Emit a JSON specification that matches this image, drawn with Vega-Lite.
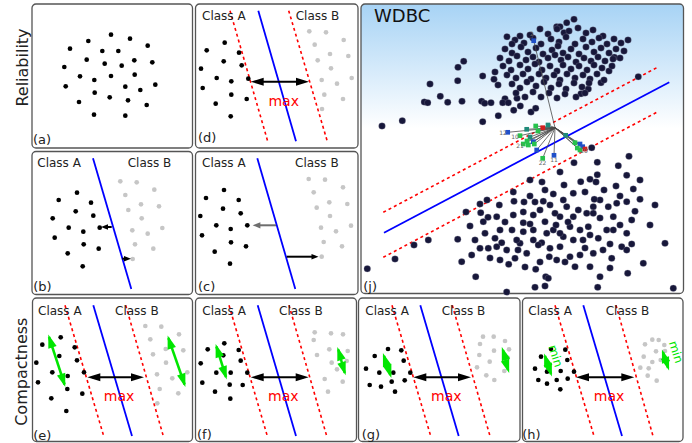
{
"$schema": "https://vega.github.io/schema/vega-lite/v6.json",
"width": 692, "height": 443,
"autosize": {"type": "fit", "contains": "padding"},
"padding": 0,
"background": "white",
"config": {"view": {"stroke": null}, "font": "DejaVu Sans"},
"datasets": {
"frames": [
{"x":32,"y":4,"x2":192.5,"y2":148},
{"x":195.5,"y":4,"x2":358,"y2":148},
{"x":32,"y":151.5,"x2":192.5,"y2":294.5},
{"x":195.5,"y":151.5,"x2":358,"y2":294.5},
{"x":32.5,"y":298,"x2":192.5,"y2":441.5},
{"x":195.5,"y":298,"x2":356.5,"y2":441.5},
{"x":358.5,"y":298,"x2":520,"y2":441.5},
{"x":522.5,"y":298,"x2":683,"y2":441.5}
],
"jframe": [{"x":361,"y":4,"x2":683.5,"y2":293.5}],
"dotsA": [
{"x":111,"y":34.7},{"x":130,"y":38.7},{"x":88.3,"y":41},{"x":70,"y":48.7},{"x":147.7,"y":45.7},{"x":102.3,"y":51},{"x":118.3,"y":51},{"x":86.7,"y":59.7},{"x":104.7,"y":63.7},{"x":121.7,"y":65.7},{"x":134.3,"y":60.3},{"x":152.3,"y":62.3},{"x":64.3,"y":67},{"x":80,"y":76.3},{"x":94.3,"y":80},{"x":111,"y":76},{"x":134.7,"y":74.7},{"x":65.7,"y":86.3},{"x":125.3,"y":86.7},{"x":140.3,"y":90},{"x":155.3,"y":84.7},{"x":94.7,"y":92.7},{"x":109.7,"y":97.3},{"x":128,"y":100.3},{"x":79,"y":102},{"x":146.7,"y":105},{"x":94,"y":114.7},{"x":125.3,"y":115.7},
{"x":224.7,"y":42.7},{"x":206.7,"y":50.3},{"x":239,"y":52.7},{"x":223.7,"y":61.3},{"x":241.7,"y":65.3},{"x":201,"y":68.7},{"x":216.7,"y":78},{"x":231.3,"y":81.3},{"x":248.3,"y":78.7},{"x":202.7,"y":88},{"x":231.3,"y":94.7},{"x":246.7,"y":99},{"x":215.7,"y":103.7},{"x":230.7,"y":116.3},
{"x":77,"y":192.7},{"x":58.7,"y":200},{"x":91,"y":202.7},{"x":75.7,"y":211.3},{"x":93.3,"y":215.7},{"x":52.7,"y":218.3},{"x":68.7,"y":227.7},{"x":83.3,"y":231.7},{"x":99.7,"y":227.7},{"x":54.7,"y":237.7},{"x":83.7,"y":244.3},{"x":98.7,"y":248.7},{"x":67.7,"y":253.3},{"x":82.7,"y":266.3},
{"x":224,"y":190},{"x":206,"y":198},{"x":238.7,"y":200},{"x":223,"y":208.7},{"x":240.7,"y":213.3},{"x":200.3,"y":216},{"x":216.3,"y":225.3},{"x":230.7,"y":229},{"x":247.3,"y":225.3},{"x":202,"y":235.3},{"x":231,"y":242.3},{"x":246,"y":246.3},{"x":214.7,"y":251.7},{"x":230,"y":263.7},
{"x":60.7,"y":337.3},{"x":42.3,"y":344.7},{"x":74.7,"y":347.3},{"x":59.3,"y":356},{"x":77,"y":360.3},{"x":36.3,"y":362.7},{"x":52.3,"y":372.3},{"x":67.7,"y":376},{"x":84,"y":372.3},{"x":38,"y":382.3},{"x":67.3,"y":389},{"x":82.3,"y":393.7},{"x":51.3,"y":398.3},{"x":66.3,"y":411},
{"x":224.3,"y":343.3},{"x":207.7,"y":349.3},{"x":238.7,"y":350},{"x":223.3,"y":355.3},{"x":240.7,"y":360.7},{"x":200.7,"y":363.3},{"x":216.3,"y":372.7},{"x":230.7,"y":372.7},{"x":247.3,"y":372.7},{"x":202.3,"y":382.7},{"x":229.7,"y":384.7},{"x":242.7,"y":385},{"x":215,"y":391.7},{"x":230.3,"y":398.7},
{"x":388,"y":349},{"x":401.3,"y":350.3},{"x":374.7,"y":356},{"x":403.7,"y":360.7},{"x":366,"y":368.7},{"x":379.3,"y":372.7},{"x":393.3,"y":372.7},{"x":410.3,"y":372.7},{"x":404.7,"y":380.3},{"x":391.7,"y":381.7},{"x":369.7,"y":385},{"x":381,"y":386.7},{"x":395,"y":391.7},
{"x":551,"y":349},{"x":565.3,"y":349.7},{"x":541,"y":356.7},{"x":567.3,"y":360},{"x":535,"y":368.7},{"x":547,"y":371.7},{"x":560.7,"y":371},{"x":574,"y":371.7},{"x":567.7,"y":378.7},{"x":556.7,"y":380},{"x":538.3,"y":380},{"x":547,"y":383.7},{"x":560.3,"y":389.3}
],
"dotsB": [
{"x":309.3,"y":31.3},{"x":326,"y":32.3},{"x":343.7,"y":40},{"x":314.7,"y":44.7},{"x":330,"y":54},{"x":348.3,"y":56},{"x":317.7,"y":60.3},{"x":331,"y":68.3},{"x":351.7,"y":78},{"x":321.7,"y":80},{"x":337,"y":83.7},{"x":324.3,"y":94.7},{"x":343,"y":99},{"x":322,"y":109},
{"x":120.3,"y":181.3},{"x":136.7,"y":182.3},{"x":154.3,"y":189.7},{"x":125.3,"y":195},{"x":141,"y":204.3},{"x":159,"y":206.3},{"x":128.3,"y":210},{"x":141.7,"y":218.3},{"x":162.3,"y":228},{"x":132.3,"y":230.3},{"x":147.7,"y":233.7},{"x":135,"y":244.3},{"x":153.3,"y":248.7},{"x":132.7,"y":259},
{"x":308.7,"y":179},{"x":325,"y":179.7},{"x":343,"y":187.3},{"x":313.7,"y":192.3},{"x":329.3,"y":202.3},{"x":347.3,"y":204},{"x":316.7,"y":207.7},{"x":330,"y":216},{"x":351,"y":225.7},{"x":321,"y":227.7},{"x":336,"y":231.3},{"x":323.7,"y":242},{"x":342,"y":246.3},{"x":321.7,"y":256.7},
{"x":145.3,"y":326},{"x":161.3,"y":326.7},{"x":179,"y":334.3},{"x":150.3,"y":339.3},{"x":165.7,"y":349},{"x":183.3,"y":350.3},{"x":153,"y":354.3},{"x":166,"y":362.7},{"x":187.3,"y":372.3},{"x":157,"y":374.3},{"x":172.3,"y":378.3},{"x":159.7,"y":389},{"x":178.3,"y":393.3},{"x":157.3,"y":403.3},
{"x":314.7,"y":332.3},{"x":331,"y":333.3},{"x":343,"y":334.3},{"x":313.7,"y":340},{"x":329.3,"y":349.3},{"x":347.7,"y":351},{"x":317,"y":355},{"x":331.7,"y":362.7},{"x":346.7,"y":361},{"x":337,"y":369.3},{"x":324.7,"y":379},{"x":342.7,"y":381.7},{"x":328,"y":391.7},
{"x":483,"y":336.7},{"x":493.7,"y":336.7},{"x":505,"y":341},{"x":480,"y":344},{"x":494,"y":350.7},{"x":509,"y":349.3},{"x":479.3,"y":355},{"x":489.7,"y":361.7},{"x":507.7,"y":357.7},{"x":477,"y":367.3},{"x":486.3,"y":375.3},{"x":494.3,"y":380},{"x":504.3,"y":371},
{"x":652.3,"y":339.7},{"x":658.7,"y":340},{"x":664.3,"y":345},{"x":645,"y":344.3},{"x":656,"y":351.3},{"x":665,"y":351},{"x":643.7,"y":356.7},{"x":652.3,"y":362},{"x":660.7,"y":360},{"x":640.3,"y":367.7},{"x":648.7,"y":368.3},{"x":647.7,"y":375.7},{"x":656.7,"y":380.7}
],
"wdbc": [
{"x":382,"y":126},{"x":402.3,"y":120.7},{"x":430,"y":84},{"x":440.3,"y":96.3},{"x":424.3,"y":102},{"x":427.7,"y":102.7},{"x":447.7,"y":102.3},{"x":457.7,"y":80.7},{"x":458,"y":67.3},{"x":463.7,"y":61.3},{"x":462,"y":101.3},{"x":482.7,"y":76},{"x":481.7,"y":101.3},{"x":484.7,"y":103.3},{"x":491,"y":102.7},{"x":494,"y":79.3},{"x":482.7,"y":121.7},{"x":498.3,"y":115.7},{"x":505,"y":98.7},{"x":502.7,"y":102.7},{"x":508.3,"y":102.7},{"x":513.7,"y":110.3},{"x":517,"y":98.3},{"x":520.3,"y":106},{"x":531,"y":112},{"x":535.7,"y":108.3},{"x":638.3,"y":76.7},{"x":614.3,"y":57.3},{"x":601,"y":82.7},{"x":581,"y":93.7},{"x":588.3,"y":89},{"x":574,"y":19.3},{"x":566.7,"y":22.7},{"x":556.7,"y":26.7},{"x":560,"y":26.7},{"x":507,"y":36.7},{"x":520,"y":36},{"x":564,"y":32.7},
{"x":557,"y":29},{"x":569,"y":31},{"x":578,"y":28},{"x":586,"y":33},{"x":593,"y":30},{"x":548,"y":34},{"x":603,"y":36},
{"x":515,"y":40},{"x":524,"y":43},{"x":533,"y":38},{"x":541,"y":44},{"x":551,"y":39},{"x":559,"y":42},{"x":566,"y":37},{"x":575,"y":44},{"x":583,"y":39},{"x":592,"y":42},{"x":599,"y":38},{"x":607,"y":44},{"x":614,"y":39},{"x":621,"y":43},{"x":628,"y":40},
{"x":505,"y":49},{"x":512,"y":53},{"x":521,"y":47},{"x":528,"y":52},{"x":536,"y":48},{"x":543,"y":54},{"x":552,"y":50},{"x":558,"y":46},{"x":563,"y":53},{"x":571,"y":49},{"x":579,"y":54},{"x":586,"y":47},{"x":594,"y":52},{"x":601,"y":48},{"x":609,"y":53},{"x":616,"y":49},{"x":624,"y":51},
{"x":500,"y":58},{"x":509,"y":61},{"x":517,"y":56},{"x":526,"y":60},{"x":533,"y":57},{"x":539,"y":62},{"x":548,"y":58},{"x":555,"y":55},{"x":561,"y":60},{"x":568,"y":57},{"x":576,"y":62},{"x":584,"y":58},{"x":591,"y":61},{"x":598,"y":57},{"x":605,"y":61},{"x":613,"y":59},
{"x":503,"y":66},{"x":511,"y":70},{"x":520,"y":65},{"x":528,"y":69},{"x":535,"y":64},{"x":542,"y":70},{"x":550,"y":66},{"x":557,"y":71},{"x":563,"y":65},{"x":571,"y":69},{"x":579,"y":66},{"x":587,"y":70},{"x":594,"y":65},{"x":602,"y":68},{"x":609,"y":71},
{"x":507,"y":75},{"x":516,"y":78},{"x":523,"y":74},{"x":531,"y":79},{"x":539,"y":74},{"x":546,"y":78},{"x":554,"y":75},{"x":560,"y":80},{"x":567,"y":74},{"x":575,"y":78},{"x":583,"y":75},{"x":590,"y":79},{"x":597,"y":74},
{"x":512,"y":84},{"x":520,"y":88},{"x":527,"y":82},{"x":536,"y":86},{"x":544,"y":82},{"x":551,"y":88},{"x":559,"y":84},{"x":566,"y":89},{"x":574,"y":83},{"x":582,"y":87},{"x":589,"y":83},
{"x":516,"y":93},{"x":525,"y":97},{"x":533,"y":92},{"x":541,"y":97},{"x":549,"y":93},{"x":557,"y":98},{"x":565,"y":94},{"x":576,"y":97},{"x":585,"y":93},
{"x":530,"y":35},{"x":540,"y":29},{"x":620,"y":58},{"x":512,"y":44},{"x":495,"y":72},{"x":498,"y":85},{"x":604,"y":80},{"x":612,"y":66},
{"x":629,"y":156.3},{"x":574,"y":162.7},{"x":597.3,"y":162.3},{"x":618.3,"y":165.7},{"x":597.3,"y":174.7},{"x":626.7,"y":175.3},{"x":590,"y":179.3},{"x":580.7,"y":181.7},{"x":564,"y":185},{"x":553.3,"y":194},{"x":513.3,"y":192},{"x":616,"y":186},{"x":633.3,"y":189},{"x":640,"y":199.3},{"x":635,"y":211.3},{"x":626.7,"y":201.7},{"x":499.3,"y":205},{"x":480,"y":204},{"x":480.7,"y":212.7},{"x":488,"y":217.3},{"x":496.7,"y":216.7},{"x":514,"y":201.3},{"x":524,"y":202},{"x":535,"y":202},{"x":543.3,"y":201.3},{"x":523.3,"y":212},{"x":533.3,"y":215},{"x":513.3,"y":215},{"x":523.3,"y":222.7},{"x":523.3,"y":231.7},{"x":533.3,"y":230},{"x":545,"y":221.7},{"x":555,"y":213.3},{"x":563.3,"y":200},{"x":573.3,"y":193.3},{"x":578.3,"y":210},{"x":586.7,"y":213.3},{"x":593.3,"y":206.7},{"x":600,"y":200},{"x":608.3,"y":206.7},{"x":613.3,"y":216.7},{"x":606.7,"y":230},{"x":598.3,"y":238.3},{"x":590,"y":235},{"x":580,"y":230},{"x":570,"y":226.7},{"x":563.3,"y":236.7},{"x":573.3,"y":240},{"x":560,"y":246.7},{"x":550,"y":248.3},{"x":541.7,"y":242.7},{"x":533.3,"y":240},{"x":520,"y":243.3},{"x":516.7,"y":240},{"x":506.7,"y":250},{"x":496.7,"y":246.7},{"x":488.3,"y":248.3},{"x":485,"y":233.3},{"x":495,"y":238.3},{"x":501.7,"y":242.7},{"x":500,"y":230},{"x":483.3,"y":221.7},{"x":480,"y":248.3},{"x":471.7,"y":255},{"x":461.7,"y":261.7},{"x":457.7,"y":239.3},{"x":428.3,"y":240},{"x":414,"y":245},{"x":395,"y":259},{"x":367.3,"y":268.7},{"x":475.7,"y":276.7},{"x":500,"y":260},{"x":508.7,"y":264.3},{"x":515,"y":258.3},{"x":535.7,"y":269.3},{"x":549.3,"y":256.7},{"x":556.7,"y":260},{"x":570,"y":256.7},{"x":580,"y":255},{"x":593.3,"y":253.3},{"x":611.7,"y":258.3},{"x":621.7,"y":246.7},{"x":626.7,"y":250},{"x":631.7,"y":244},{"x":643.3,"y":263.3},{"x":627.7,"y":273.3},{"x":600,"y":276.7},{"x":590,"y":266.7},{"x":575,"y":266.7},{"x":545.7,"y":276.7},{"x":548.3,"y":278.3},{"x":535,"y":287.3},{"x":545,"y":286},{"x":506.7,"y":292},{"x":597.7,"y":287.3},{"x":665,"y":243.3},{"x":673.3,"y":288.3},{"x":631.7,"y":220},{"x":626.7,"y":233.3},{"x":616.7,"y":203.3},{"x":613.3,"y":230},{"x":594.3,"y":199.3},{"x":593.3,"y":213.3},{"x":588.3,"y":226.7},{"x":573.3,"y":216.7},{"x":566.7,"y":206.7},{"x":560,"y":216.7},{"x":553.3,"y":230},{"x":546.7,"y":233.3},{"x":538.3,"y":245},{"x":526.7,"y":253.3},{"x":560,"y":233.3},
{"x":585,"y":192},{"x":604,"y":190},{"x":620,"y":196},{"x":545,"y":190},{"x":530,"y":196},{"x":505,"y":222},{"x":512,"y":230},{"x":540,"y":210},{"x":550,"y":205},{"x":568,"y":222},{"x":583,"y":240},{"x":600,"y":218},{"x":610,"y":244},{"x":620,"y":225},{"x":603,"y":250},{"x":585,"y":248},{"x":565,"y":262},{"x":540,"y":262},{"x":525,"y":267},{"x":490,"y":258},{"x":470,"y":226},{"x":466,"y":212},{"x":475,"y":240},{"x":556,"y":225},{"x":530,"y":224},{"x":518,"y":250},{"x":610,"y":268},{"x":640,"y":180},{"x":650,"y":225},{"x":655,"y":205},{"x":596,"y":182},{"x":560,"y":172},{"x":542,"y":182},{"x":530,"y":180},{"x":487,"y":200},{"x":591.7,"y":147.7}
],
"blue": [
{"x":258.3,"y":10.7,"x2":296,"y2":141.3},
{"x":93,"y":158.3,"x2":131.3,"y2":289},
{"x":257.3,"y":158.3,"x2":295.3,"y2":289},
{"x":93.3,"y":305.3,"x2":132,"y2":436},
{"x":257.7,"y":305.3,"x2":296,"y2":436},
{"x":420.3,"y":305.3,"x2":458.7,"y2":436},
{"x":583.3,"y":305.3,"x2":622,"y2":436},
{"x":384,"y":232.7,"x2":669.3,"y2":82.3}
],
"red": [
{"x":230,"y":10.7,"x2":267.7,"y2":141.3},{"x":288.7,"y":10.7,"x2":327.3,"y2":141.3},
{"x":65,"y":305.3,"x2":103.7,"y2":436},{"x":125.7,"y":305.3,"x2":163.3,"y2":436},
{"x":229,"y":305.3,"x2":267.3,"y2":436},{"x":289,"y":305.3,"x2":326.7,"y2":436},
{"x":392,"y":305.3,"x2":430.7,"y2":436},{"x":452.3,"y":305.3,"x2":490,"y2":436},
{"x":555,"y":305.3,"x2":594,"y2":436},{"x":616,"y":305.3,"x2":653,"y2":436},
{"x":383.3,"y":212.3,"x2":656.7,"y2":67.7},{"x":383.3,"y":257.3,"x2":656.7,"y2":112.3}
],
"shafts": [
{"x":255,"y":81.7,"x2":304,"y2":81.7},
{"x":92,"y":377.3,"x2":139,"y2":377.3},
{"x":255,"y":377.3,"x2":304,"y2":377.3},
{"x":418,"y":377.3,"x2":466,"y2":377.3},
{"x":581,"y":377.3,"x2":629,"y2":377.3},
{"x":111.7,"y":227,"x2":105,"y2":227},
{"x":122.3,"y":258.7,"x2":127,"y2":258.7},
{"x":286.7,"y":256.7,"x2":314,"y2":256.7}
],
"grayshaft": [{"x":276,"y":225.3,"x2":257,"y2":225.3}],
"headsL": [{"x":257.2,"y":81.7},{"x":93.8,"y":377.3},{"x":257.2,"y":377.3},{"x":419.8,"y":377.3},{"x":582.5,"y":377.3}],
"headsR": [{"x":302.5,"y":81.7},{"x":137.5,"y":377.3},{"x":302.2,"y":377.3},{"x":464.5,"y":377.3},{"x":627.8,"y":377.3}],
"smallL": [{"x":104.5,"y":227}],
"smallR": [{"x":127.5,"y":258.7},{"x":315,"y":256.7}],
"grayL": [{"x":256.5,"y":225.3}],
"gshafts": [
{"x":49,"y":337,"x2":64.6,"y2":384.5},
{"x":168.4,"y":338,"x2":184.6,"y2":384.5},
{"x":216.4,"y":346.5,"x2":226,"y2":377},
{"x":338.3,"y":349.5,"x2":344.7,"y2":373},
{"x":384,"y":356,"x2":390.3,"y2":375},
{"x":503,"y":350,"x2":508,"y2":370},
{"x":545,"y":356,"x2":551,"y2":374},
{"x":663,"y":352,"x2":668,"y2":368}
],
"gUp": [{"x":50.4,"y":341},{"x":169.7,"y":342},{"x":217.7,"y":350.5},{"x":339.4,"y":353.5},{"x":385,"y":359.5},{"x":503.9,"y":353.5},{"x":546.2,"y":359.8},{"x":664,"y":356}],
"gDown": [{"x":63.2,"y":380.5},{"x":183.3,"y":380.5},{"x":224.7,"y":373},{"x":343.6,"y":368.8},{"x":389.3,"y":371.5},{"x":507.1,"y":366.5},{"x":549.8,"y":370.2},{"x":667,"y":364}],
"mins": [{"x":555.5,"y":356,"t":"min"},{"x":676,"y":352,"t":"min"}],
"edges": [
{"x":555,"y":127.7,"x2":533.7,"y2":40.7},{"x":555,"y":127.7,"x2":507.7,"y2":132.3},{"x":555,"y":127.7,"x2":520,"y2":135.7},{"x":555,"y":127.7,"x2":526.7,"y2":129.3},{"x":555,"y":127.7,"x2":535.7,"y2":126},{"x":555,"y":127.7,"x2":542.7,"y2":127.7},{"x":555,"y":127.7,"x2":523.3,"y2":144},{"x":555,"y":127.7,"x2":528.3,"y2":145},{"x":555,"y":127.7,"x2":533.3,"y2":141.7},{"x":555,"y":127.7,"x2":534.3,"y2":144},{"x":555,"y":127.7,"x2":536.7,"y2":150},{"x":555,"y":127.7,"x2":542.7,"y2":158.3},{"x":555,"y":127.7,"x2":554,"y2":155.3},{"x":555,"y":127.7,"x2":565.7,"y2":135.3},{"x":555,"y":127.7,"x2":575,"y2":142.7},{"x":555,"y":127.7,"x2":580,"y2":144},{"x":555,"y":127.7,"x2":582.7,"y2":146.7},{"x":555,"y":127.7,"x2":577.3,"y2":148},{"x":555,"y":127.7,"x2":580,"y2":150},{"x":555,"y":127.7,"x2":530,"y2":137},{"x":555,"y":127.7,"x2":538,"y2":131},{"x":555,"y":127.7,"x2":548,"y2":125},{"x":555,"y":127.7,"x2":527,"y2":141},{"x":555,"y":127.7,"x2":585,"y2":149}
],
"nodes": [
{"x":533.7,"y":40.7,"c":"b"},{"x":507.7,"y":132.3,"c":"b"},{"x":520,"y":135.7,"c":"g"},{"x":526.7,"y":129.3,"c":"t"},{"x":535.7,"y":126,"c":"g"},{"x":542.7,"y":127.7,"c":"r"},{"x":523.3,"y":144,"c":"g"},{"x":528.3,"y":145,"c":"g"},{"x":533.3,"y":141.7,"c":"b"},{"x":534.3,"y":144,"c":"g"},{"x":536.7,"y":150,"c":"b"},{"x":542.7,"y":158.3,"c":"g"},{"x":554,"y":155.3,"c":"b"},{"x":565.7,"y":135.3,"c":"t"},{"x":575,"y":142.7,"c":"g"},{"x":580,"y":144,"c":"b"},{"x":582.7,"y":146.7,"c":"b"},{"x":577.3,"y":148,"c":"g"},{"x":580,"y":150,"c":"g"},{"x":530,"y":137,"c":"t"},{"x":538,"y":131,"c":"g"},{"x":548,"y":125,"c":"t"},{"x":527,"y":141,"c":"g"},{"x":585,"y":149,"c":"r"}
],
"nlabels": [
{"x":532,"y":33.5,"t":"2"},{"x":503,"y":133,"t":"12"},{"x":515,"y":137,"t":"10"},{"x":542.5,"y":163,"t":"22"},{"x":554,"y":160,"t":"11"},{"x":520,"y":146,"t":"21"},{"x":584,"y":151,"t":"20"}
],
"plabels": [
{"x":33,"y":140,"t":"(a)"},{"x":198,"y":137.5,"t":"(d)"},{"x":33.3,"y":287,"t":"(b)"},{"x":198,"y":287,"t":"(c)"},{"x":363.3,"y":286.5,"t":"(j)"},{"x":33.3,"y":435.5,"t":"(e)"},{"x":197,"y":434.5,"t":"(f)"},{"x":361.7,"y":434.5,"t":"(g)"},{"x":522.3,"y":434.5,"t":"(h)"}
],
"classes": [
{"x":202,"y":15.7,"t":"Class A"},{"x":295.7,"y":15.7,"t":"Class B"},
{"x":37.3,"y":163.3,"t":"Class A"},{"x":127.7,"y":163.3,"t":"Class B"},
{"x":202,"y":163.3,"t":"Class A"},{"x":295,"y":163.3,"t":"Class B"},
{"x":38,"y":310.7,"t":"Class A"},{"x":115,"y":310.7,"t":"Class B"},
{"x":202.3,"y":310.7,"t":"Class A"},{"x":279,"y":310.7,"t":"Class B"},
{"x":365.3,"y":311,"t":"Class A"},{"x":441.7,"y":311,"t":"Class B"},
{"x":528.3,"y":311,"t":"Class A"},{"x":605.7,"y":311,"t":"Class B"}
],
"maxes": [
{"x":283.7,"y":102.3,"t":"max"},{"x":119,"y":396.7,"t":"max"},{"x":283.3,"y":396.7,"t":"max"},{"x":446.3,"y":397.3,"t":"max"},{"x":609,"y":397.3,"t":"max"}
],
"rowtitles": [{"x":23,"y":67.5,"t":"Reliability"},{"x":22,"y":371.7,"t":"Compactness"}],
"wdbctitle": [{"x":374,"y":16.5,"t":"WDBC"}]
},
"encoding": {
"x": {"field": "x", "type": "quantitative", "scale": {"domain": [0, 692], "nice": false, "zero": false}, "axis": null},
"y": {"field": "y", "type": "quantitative", "scale": {"domain": [0, 443], "nice": false, "zero": false, "reverse": true}, "axis": null}
},
"layer": [
{"data": {"name": "frames"}, "mark": {"type": "rect", "fill": "white", "stroke": "#555555", "strokeWidth": 1.3, "cornerRadius": 4}, "encoding": {"x2": {"field": "x2"}, "y2": {"field": "y2"}}},
{"data": {"name": "jframe"}, "mark": {"type": "rect", "stroke": "#555555", "strokeWidth": 1.3, "cornerRadius": 4, "fill": {"gradient": "linear", "x1": 0, "y1": 0, "x2": 0, "y2": 1, "stops": [{"offset": 0, "color": "#a7d3f5"}, {"offset": 0.43, "color": "#ffffff"}, {"offset": 1, "color": "#ffffff"}]}}, "encoding": {"x2": {"field": "x2"}, "y2": {"field": "y2"}}},
{"data": {"name": "red"}, "mark": {"type": "rule", "color": "#ff0000", "strokeWidth": 1.6, "strokeDash": [3, 3]}, "encoding": {"x2": {"field": "x2"}, "y2": {"field": "y2"}}},
{"data": {"name": "blue"}, "mark": {"type": "rule", "color": "#0000ff", "strokeWidth": 1.8}, "encoding": {"x2": {"field": "x2"}, "y2": {"field": "y2"}}},
{"data": {"name": "wdbc"}, "mark": {"type": "point", "filled": true, "color": "#17173a", "size": 44, "opacity": 1, "stroke": "#8a8aa0", "strokeWidth": 0.3}},
{"data": {"name": "edges"}, "mark": {"type": "rule", "color": "#4a4a4a", "strokeWidth": 0.8}, "encoding": {"x2": {"field": "x2"}, "y2": {"field": "y2"}}},
{"data": {"name": "nodes"}, "mark": {"type": "point", "filled": true, "size": 22, "opacity": 1, "shape": "square"}, "encoding": {"color": {"field": "c", "type": "nominal", "scale": {"domain": ["b", "g", "t", "r"], "range": ["#1f4fc8", "#27c24c", "#1f8a7a", "#d42020"]}, "legend": null}}},
{"data": {"name": "nlabels"}, "mark": {"type": "text", "fontSize": 6, "color": "#666666", "align": "center", "baseline": "middle"}, "encoding": {"text": {"field": "t"}}},
{"data": {"name": "dotsA"}, "mark": {"type": "point", "filled": true, "color": "#000000", "size": 22, "opacity": 1}},
{"data": {"name": "dotsB"}, "mark": {"type": "point", "filled": true, "color": "#c6c6c6", "size": 22, "opacity": 1}},
{"data": {"name": "shafts"}, "mark": {"type": "rule", "color": "#000000", "strokeWidth": 2}, "encoding": {"x2": {"field": "x2"}, "y2": {"field": "y2"}}},
{"data": {"name": "grayshaft"}, "mark": {"type": "rule", "color": "#6e6e6e", "strokeWidth": 2}, "encoding": {"x2": {"field": "x2"}, "y2": {"field": "y2"}}},
{"data": {"name": "headsL"}, "mark": {"type": "point", "filled": true, "color": "#000000", "opacity": 1, "size": 169, "shape": "M1,-0.62L-1,0L1,0.62Z"}},
{"data": {"name": "headsR"}, "mark": {"type": "point", "filled": true, "color": "#000000", "opacity": 1, "size": 169, "shape": "M-1,-0.62L1,0L-1,0.62Z"}},
{"data": {"name": "smallL"}, "mark": {"type": "point", "filled": true, "color": "#000000", "opacity": 1, "size": 49, "shape": "M1,-0.8L-1,0L1,0.8Z"}},
{"data": {"name": "smallR"}, "mark": {"type": "point", "filled": true, "color": "#000000", "opacity": 1, "size": 49, "shape": "M-1,-0.8L1,0L-1,0.8Z"}},
{"data": {"name": "grayL"}, "mark": {"type": "point", "filled": true, "color": "#6e6e6e", "opacity": 1, "size": 60, "shape": "M1,-0.8L-1,0L1,0.8Z"}},
{"data": {"name": "gshafts"}, "mark": {"type": "rule", "color": "#00e600", "strokeWidth": 2.5}, "encoding": {"x2": {"field": "x2"}, "y2": {"field": "y2"}}},
{"data": {"name": "gUp"}, "mark": {"type": "point", "filled": true, "color": "#00e600", "opacity": 1, "size": 180, "angle": -18, "shape": "M-0.65,1L0,-1L0.65,1Z"}},
{"data": {"name": "gDown"}, "mark": {"type": "point", "filled": true, "color": "#00e600", "opacity": 1, "size": 180, "angle": -18, "shape": "M-0.65,-1L0,1L0.65,-1Z"}},
{"data": {"name": "mins"}, "mark": {"type": "text", "fontSize": 12, "color": "#00e600", "angle": 72, "align": "center", "baseline": "middle"}, "encoding": {"text": {"field": "t"}}},
{"data": {"name": "plabels"}, "mark": {"type": "text", "fontSize": 13, "color": "#222222", "align": "left", "baseline": "middle"}, "encoding": {"text": {"field": "t"}}},
{"data": {"name": "classes"}, "mark": {"type": "text", "fontSize": 12, "color": "#222222", "align": "left", "baseline": "middle"}, "encoding": {"text": {"field": "t"}}},
{"data": {"name": "maxes"}, "mark": {"type": "text", "fontSize": 14, "color": "#ff0000", "align": "center", "baseline": "middle"}, "encoding": {"text": {"field": "t"}}},
{"data": {"name": "rowtitles"}, "mark": {"type": "text", "fontSize": 16, "color": "#222222", "angle": 270, "align": "center", "baseline": "middle"}, "encoding": {"text": {"field": "t"}}},
{"data": {"name": "wdbctitle"}, "mark": {"type": "text", "fontSize": 18, "color": "#111111", "align": "left", "baseline": "middle"}, "encoding": {"text": {"field": "t"}}}
]
}
